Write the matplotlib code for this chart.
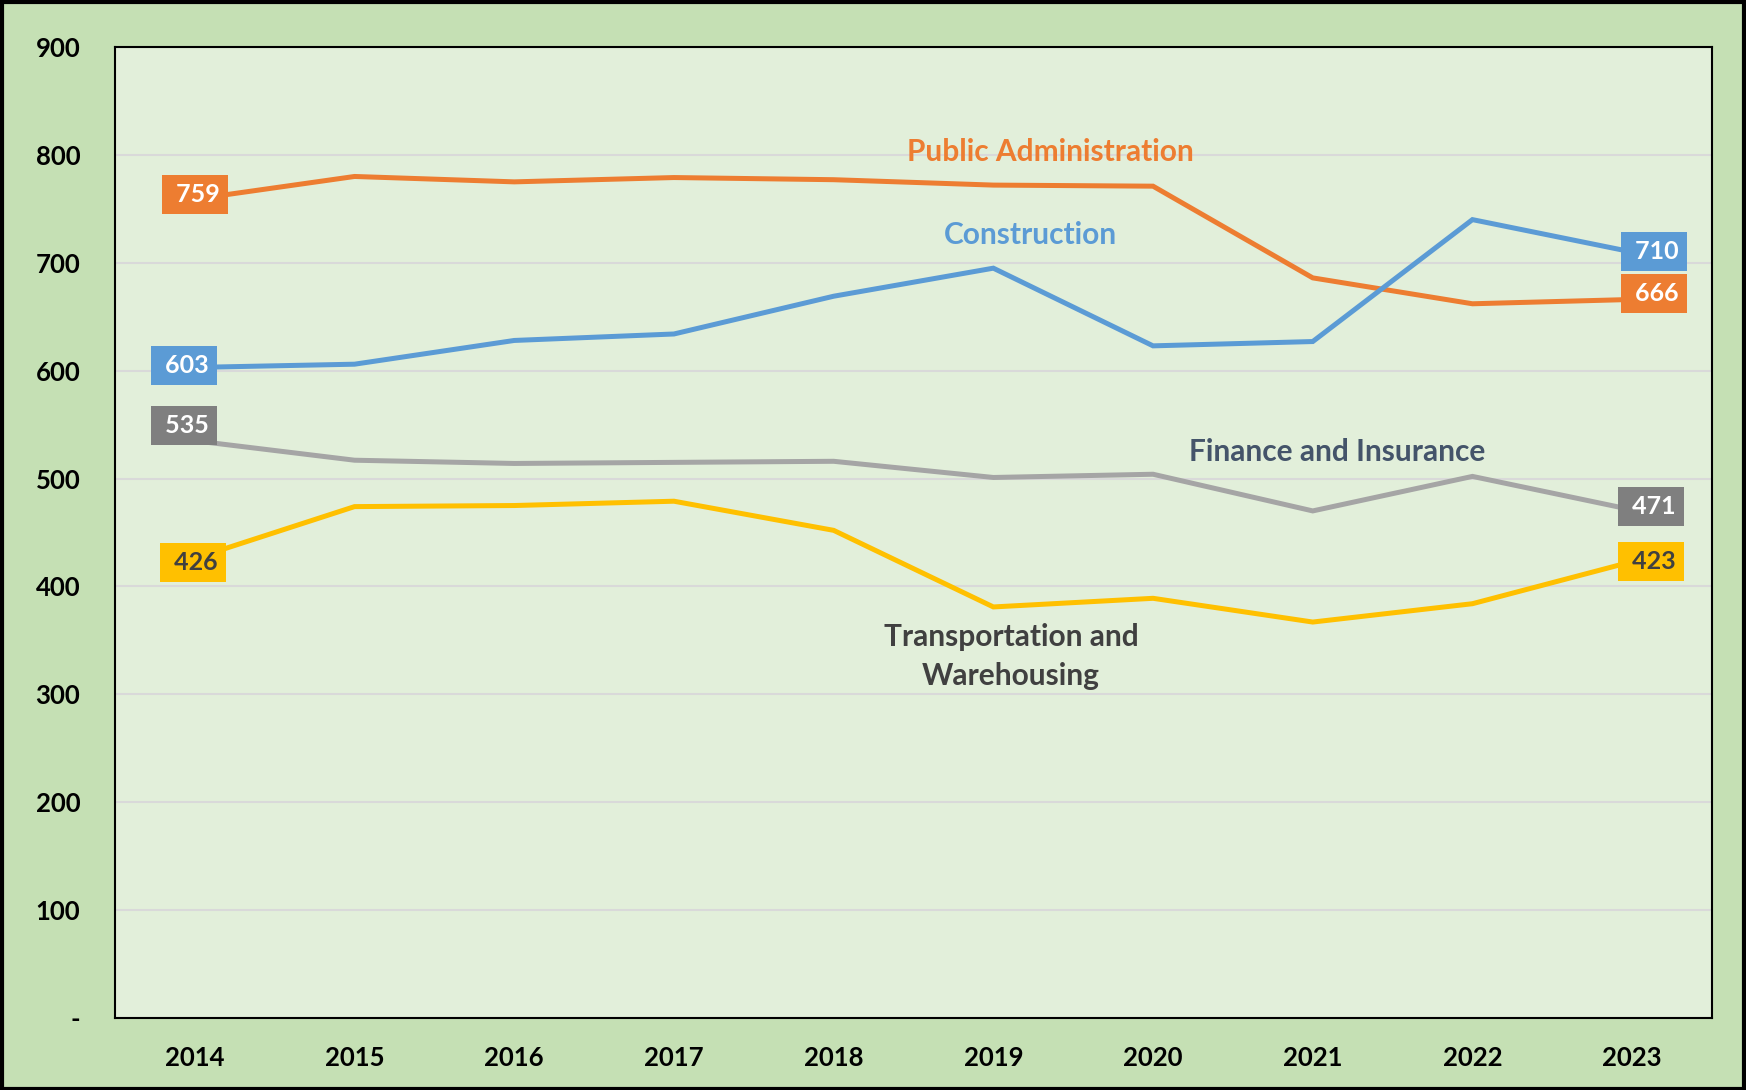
import numpy as np
import matplotlib.pyplot as plt

plt.rcParams['font.family'] = ['Lato', 'DejaVu Sans']
plt.rcParams['font.weight'] = 'bold'

years = ["2014", "2015", "2016", "2017", "2018", "2019", "2020", "2021", "2022", "2023"]
public_admin = [759, 780, 775, 779, 777, 772, 771, 686, 662, 666]
construction = [603, 606, 628, 634, 669, 695, 623, 627, 740, 710]
finance = [535, 517, 514, 515, 516, 501, 504, 470, 502, 471]
transport = [426, 474, 475, 479, 452, 381, 389, 367, 384, 423]

series = [
	# values, line colour, box colour, box text colour, name, name colour, name pos, label offsets (px)
	(public_admin, "#ED7D31", "#ED7D31", "white", "Public Administration", "#ED7D31", (5.36, 803), [(0, 5), (22, 6)]),
	(construction, "#5B9BD5", "#5B9BD5", "white", "Construction", "#5B9BD5", (5.23, 726), [(-11, 2), (22, 0)]),
	(finance, "#A5A5A5", "#7F7F7F", "white", "Finance and Insurance", "#44546A", (7.15, 525), [(-11, 15), (19, 3)]),
	(transport, "#FFC000", "#FFC000", "#404040", "Transportation and\nWarehousing", "#404040", (5.11, 335), [(-2, -4), (19, 0)]),
]

fig = plt.figure(figsize=(17.46, 10.90), dpi=100)
fig.patch.set_facecolor("#C5E0B4")
ax = fig.add_axes([115/1746, 1-1018/1090, (1712-115)/1746, (1018-47)/1090])
ax.set_facecolor("#E2EFDA")

x = np.arange(len(years))
for vals, lc, bc, tc, name, nc, pos, offs in series:
	ax.plot(x, vals, color=lc, lw=3.6, solid_joinstyle="miter", zorder=3)
	for i, off in zip((0, len(vals)-1), offs):
		ax.annotate(" %d" % vals[i], (x[i], vals[i]), xytext=off, textcoords="offset pixels",
			ha="center", va="center", fontsize=18, fontweight="bold", color=tc, zorder=5,
			bbox=dict(boxstyle="square,pad=0.32", fc=bc, ec="none"))
	ax.text(pos[0], pos[1], name, ha="center", va="center", fontsize=21.5,
		fontweight="bold", color=nc, linespacing=1.48, zorder=4)

ax.set_xlim(-0.5, 9.5)
ax.set_ylim(0, 900)
ax.set_xticks(x)
ax.set_xticklabels(years)
yt = np.arange(0, 1000, 100)
ax.set_yticks(yt)
ax.set_yticklabels(["-"] + [str(v) for v in yt[1:]])
ax.tick_params(axis="both", length=0, labelsize=18.5, colors="black")
ax.tick_params(axis="x", pad=20)
ax.tick_params(axis="y", pad=25)
ax.yaxis.grid(True, color="#D9D9D9", lw=1.5)
ax.set_axisbelow(True)
for s in ax.spines.values():
	s.set_color("black")
	s.set_linewidth(1.5)

# outer border of the chart area
fig.add_artist(plt.Rectangle((0.001, 0.001), 0.998, 0.997, transform=fig.transFigure,
	fill=False, ec="black", lw=3))

plt.savefig("out.png", dpi=100, facecolor=fig.get_facecolor())
